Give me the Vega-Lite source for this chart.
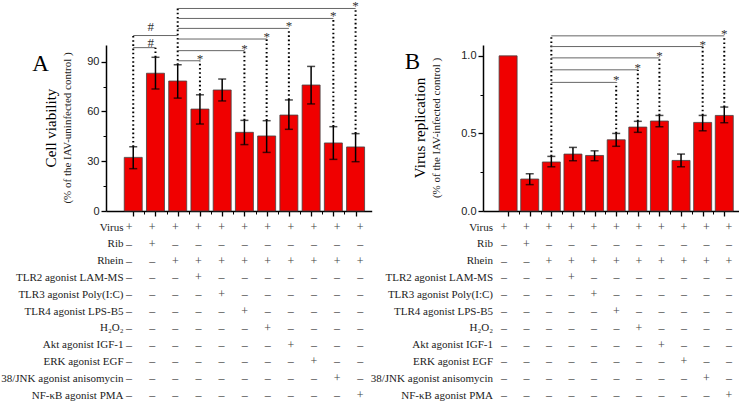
{
  "$schema": "https://vega.github.io/schema/vega-lite/v6.json",
  "padding": 0,
  "background": "white",
  "config": {"view": {"stroke": null}},
  "datasets": {
    "a": [
      {"i": 0, "v": 32.3, "lo": 25.5, "hi": 38.7},
      {"i": 1, "v": 83, "lo": 73.5, "hi": 92.6},
      {"i": 2, "v": 78.3, "lo": 68, "hi": 88.1},
      {"i": 3, "v": 61.4, "lo": 52.4, "hi": 70},
      {"i": 4, "v": 72.9, "lo": 66.3, "hi": 79.5},
      {"i": 5, "v": 47.4, "lo": 40, "hi": 54.6},
      {"i": 6, "v": 45.2, "lo": 35.3, "hi": 54.4},
      {"i": 7, "v": 57.8, "lo": 49.2, "hi": 66.9},
      {"i": 8, "v": 75.9, "lo": 64.5, "hi": 87.1},
      {"i": 9, "v": 41, "lo": 31.1, "hi": 50.8},
      {"i": 10, "v": 38.6, "lo": 29.7, "hi": 46.6}
    ],
    "b": [
      {"i": 0, "v": 1.0, "lo": null, "hi": null},
      {"i": 1, "v": 0.206, "lo": 0.17, "hi": 0.24},
      {"i": 2, "v": 0.316, "lo": 0.285, "hi": 0.352},
      {"i": 3, "v": 0.367, "lo": 0.324, "hi": 0.41},
      {"i": 4, "v": 0.358, "lo": 0.324, "hi": 0.388},
      {"i": 5, "v": 0.459, "lo": 0.417, "hi": 0.5},
      {"i": 6, "v": 0.541, "lo": 0.507, "hi": 0.578},
      {"i": 7, "v": 0.58, "lo": 0.543, "hi": 0.616},
      {"i": 8, "v": 0.326, "lo": 0.285, "hi": 0.367},
      {"i": 9, "v": 0.571, "lo": 0.517, "hi": 0.616},
      {"i": 10, "v": 0.616, "lo": 0.569, "hi": 0.67}
    ],
    "la": [
      {"i": 0, "i2": 1, "y": 98.4}, {"i": 0, "i2": 2, "y": 105.7},
      {"i": 2, "i2": 3, "y": 90.5}, {"i": 2, "i2": 5, "y": 96.6},
      {"i": 2, "i2": 6, "y": 103.6}, {"i": 2, "i2": 7, "y": 110},
      {"i": 2, "i2": 9, "y": 116}, {"i": 2, "i2": 10, "y": 122}
    ],
    "da": [
      {"i": 0, "y1": 38.7, "y2": 105.7}, {"i": 1, "y1": 92.6, "y2": 98.4},
      {"i": 2, "y1": 88.1, "y2": 122.5}, {"i": 3, "y1": 70, "y2": 90.5},
      {"i": 5, "y1": 54.6, "y2": 96.6}, {"i": 6, "y1": 54.4, "y2": 103.6},
      {"i": 7, "y1": 66.9, "y2": 110}, {"i": 9, "y1": 50.8, "y2": 116},
      {"i": 10, "y1": 46.6, "y2": 122}
    ],
    "ta": [
      {"x": 0.79, "y": 100, "t": "#"}, {"x": 0.79, "y": 109.5, "t": "#"},
      {"x": 3, "y": 90.5, "t": "*"}, {"x": 5, "y": 96.6, "t": "*"},
      {"x": 6, "y": 103.6, "t": "*"}, {"x": 7, "y": 110, "t": "*"},
      {"x": 9, "y": 116, "t": "*"}, {"x": 10, "y": 122, "t": "*"}
    ],
    "lb": [
      {"i": 2, "i2": 5, "y": 0.829}, {"i": 2, "i2": 6, "y": 0.91},
      {"i": 2, "i2": 7, "y": 0.987}, {"i": 2, "i2": 9, "y": 1.06},
      {"i": 2, "i2": 10, "y": 1.129}
    ],
    "db": [
      {"i": 2, "y1": 0.352, "y2": 1.135}, {"i": 5, "y1": 0.5, "y2": 0.829},
      {"i": 6, "y1": 0.578, "y2": 0.91}, {"i": 7, "y1": 0.616, "y2": 0.987},
      {"i": 9, "y1": 0.616, "y2": 1.06}, {"i": 10, "y1": 0.67, "y2": 1.129}
    ],
    "tb": [
      {"x": 5, "y": 0.829, "t": "*"}, {"x": 6, "y": 0.91, "t": "*"},
      {"x": 7, "y": 0.987, "t": "*"}, {"x": 9, "y": 1.06, "t": "*"},
      {"x": 10, "y": 1.129, "t": "*"}
    ],
    "tbl": [
      {"r": "Virus", "c": 0, "s": "+"}, {"r": "Virus", "c": 1, "s": "+"}, {"r": "Virus", "c": 2, "s": "+"}, {"r": "Virus", "c": 3, "s": "+"}, {"r": "Virus", "c": 4, "s": "+"}, {"r": "Virus", "c": 5, "s": "+"}, {"r": "Virus", "c": 6, "s": "+"}, {"r": "Virus", "c": 7, "s": "+"}, {"r": "Virus", "c": 8, "s": "+"}, {"r": "Virus", "c": 9, "s": "+"}, {"r": "Virus", "c": 10, "s": "+"},
      {"r": "Rib", "c": 0, "s": "–"}, {"r": "Rib", "c": 1, "s": "+"}, {"r": "Rib", "c": 2, "s": "–"}, {"r": "Rib", "c": 3, "s": "–"}, {"r": "Rib", "c": 4, "s": "–"}, {"r": "Rib", "c": 5, "s": "–"}, {"r": "Rib", "c": 6, "s": "–"}, {"r": "Rib", "c": 7, "s": "–"}, {"r": "Rib", "c": 8, "s": "–"}, {"r": "Rib", "c": 9, "s": "–"}, {"r": "Rib", "c": 10, "s": "–"},
      {"r": "Rhein", "c": 0, "s": "–"}, {"r": "Rhein", "c": 1, "s": "–"}, {"r": "Rhein", "c": 2, "s": "+"}, {"r": "Rhein", "c": 3, "s": "+"}, {"r": "Rhein", "c": 4, "s": "+"}, {"r": "Rhein", "c": 5, "s": "+"}, {"r": "Rhein", "c": 6, "s": "+"}, {"r": "Rhein", "c": 7, "s": "+"}, {"r": "Rhein", "c": 8, "s": "+"}, {"r": "Rhein", "c": 9, "s": "+"}, {"r": "Rhein", "c": 10, "s": "+"},
      {"r": "TLR2 agonist LAM-MS", "c": 0, "s": "–"}, {"r": "TLR2 agonist LAM-MS", "c": 1, "s": "–"}, {"r": "TLR2 agonist LAM-MS", "c": 2, "s": "–"}, {"r": "TLR2 agonist LAM-MS", "c": 3, "s": "+"}, {"r": "TLR2 agonist LAM-MS", "c": 4, "s": "–"}, {"r": "TLR2 agonist LAM-MS", "c": 5, "s": "–"}, {"r": "TLR2 agonist LAM-MS", "c": 6, "s": "–"}, {"r": "TLR2 agonist LAM-MS", "c": 7, "s": "–"}, {"r": "TLR2 agonist LAM-MS", "c": 8, "s": "–"}, {"r": "TLR2 agonist LAM-MS", "c": 9, "s": "–"}, {"r": "TLR2 agonist LAM-MS", "c": 10, "s": "–"},
      {"r": "TLR3 agonist Poly(I:C)", "c": 0, "s": "–"}, {"r": "TLR3 agonist Poly(I:C)", "c": 1, "s": "–"}, {"r": "TLR3 agonist Poly(I:C)", "c": 2, "s": "–"}, {"r": "TLR3 agonist Poly(I:C)", "c": 3, "s": "–"}, {"r": "TLR3 agonist Poly(I:C)", "c": 4, "s": "+"}, {"r": "TLR3 agonist Poly(I:C)", "c": 5, "s": "–"}, {"r": "TLR3 agonist Poly(I:C)", "c": 6, "s": "–"}, {"r": "TLR3 agonist Poly(I:C)", "c": 7, "s": "–"}, {"r": "TLR3 agonist Poly(I:C)", "c": 8, "s": "–"}, {"r": "TLR3 agonist Poly(I:C)", "c": 9, "s": "–"}, {"r": "TLR3 agonist Poly(I:C)", "c": 10, "s": "–"},
      {"r": "TLR4 agonist LPS-B5", "c": 0, "s": "–"}, {"r": "TLR4 agonist LPS-B5", "c": 1, "s": "–"}, {"r": "TLR4 agonist LPS-B5", "c": 2, "s": "–"}, {"r": "TLR4 agonist LPS-B5", "c": 3, "s": "–"}, {"r": "TLR4 agonist LPS-B5", "c": 4, "s": "–"}, {"r": "TLR4 agonist LPS-B5", "c": 5, "s": "+"}, {"r": "TLR4 agonist LPS-B5", "c": 6, "s": "–"}, {"r": "TLR4 agonist LPS-B5", "c": 7, "s": "–"}, {"r": "TLR4 agonist LPS-B5", "c": 8, "s": "–"}, {"r": "TLR4 agonist LPS-B5", "c": 9, "s": "–"}, {"r": "TLR4 agonist LPS-B5", "c": 10, "s": "–"},
      {"r": "H₂O₂", "c": 0, "s": "–"}, {"r": "H₂O₂", "c": 1, "s": "–"}, {"r": "H₂O₂", "c": 2, "s": "–"}, {"r": "H₂O₂", "c": 3, "s": "–"}, {"r": "H₂O₂", "c": 4, "s": "–"}, {"r": "H₂O₂", "c": 5, "s": "–"}, {"r": "H₂O₂", "c": 6, "s": "+"}, {"r": "H₂O₂", "c": 7, "s": "–"}, {"r": "H₂O₂", "c": 8, "s": "–"}, {"r": "H₂O₂", "c": 9, "s": "–"}, {"r": "H₂O₂", "c": 10, "s": "–"},
      {"r": "Akt agonist IGF-1", "c": 0, "s": "–"}, {"r": "Akt agonist IGF-1", "c": 1, "s": "–"}, {"r": "Akt agonist IGF-1", "c": 2, "s": "–"}, {"r": "Akt agonist IGF-1", "c": 3, "s": "–"}, {"r": "Akt agonist IGF-1", "c": 4, "s": "–"}, {"r": "Akt agonist IGF-1", "c": 5, "s": "–"}, {"r": "Akt agonist IGF-1", "c": 6, "s": "–"}, {"r": "Akt agonist IGF-1", "c": 7, "s": "+"}, {"r": "Akt agonist IGF-1", "c": 8, "s": "–"}, {"r": "Akt agonist IGF-1", "c": 9, "s": "–"}, {"r": "Akt agonist IGF-1", "c": 10, "s": "–"},
      {"r": "ERK agonist EGF", "c": 0, "s": "–"}, {"r": "ERK agonist EGF", "c": 1, "s": "–"}, {"r": "ERK agonist EGF", "c": 2, "s": "–"}, {"r": "ERK agonist EGF", "c": 3, "s": "–"}, {"r": "ERK agonist EGF", "c": 4, "s": "–"}, {"r": "ERK agonist EGF", "c": 5, "s": "–"}, {"r": "ERK agonist EGF", "c": 6, "s": "–"}, {"r": "ERK agonist EGF", "c": 7, "s": "–"}, {"r": "ERK agonist EGF", "c": 8, "s": "+"}, {"r": "ERK agonist EGF", "c": 9, "s": "–"}, {"r": "ERK agonist EGF", "c": 10, "s": "–"},
      {"r": "38/JNK agonist anisomycin", "c": 0, "s": "–"}, {"r": "38/JNK agonist anisomycin", "c": 1, "s": "–"}, {"r": "38/JNK agonist anisomycin", "c": 2, "s": "–"}, {"r": "38/JNK agonist anisomycin", "c": 3, "s": "–"}, {"r": "38/JNK agonist anisomycin", "c": 4, "s": "–"}, {"r": "38/JNK agonist anisomycin", "c": 5, "s": "–"}, {"r": "38/JNK agonist anisomycin", "c": 6, "s": "–"}, {"r": "38/JNK agonist anisomycin", "c": 7, "s": "–"}, {"r": "38/JNK agonist anisomycin", "c": 8, "s": "–"}, {"r": "38/JNK agonist anisomycin", "c": 9, "s": "+"}, {"r": "38/JNK agonist anisomycin", "c": 10, "s": "–"},
      {"r": "NF-κB agonist PMA", "c": 0, "s": "–"}, {"r": "NF-κB agonist PMA", "c": 1, "s": "–"}, {"r": "NF-κB agonist PMA", "c": 2, "s": "–"}, {"r": "NF-κB agonist PMA", "c": 3, "s": "–"}, {"r": "NF-κB agonist PMA", "c": 4, "s": "–"}, {"r": "NF-κB agonist PMA", "c": 5, "s": "–"}, {"r": "NF-κB agonist PMA", "c": 6, "s": "–"}, {"r": "NF-κB agonist PMA", "c": 7, "s": "–"}, {"r": "NF-κB agonist PMA", "c": 8, "s": "–"}, {"r": "NF-κB agonist PMA", "c": 9, "s": "–"}, {"r": "NF-κB agonist PMA", "c": 10, "s": "+"}
    ]
  },
  "columns": 2,
  "spacing": {"row": 16, "column": 111},
  "bounds": "flush",
  "align": "each",
  "concat": [
    {
      "width": 265.7,
      "height": 166,
      "title": {"text": "Cell viability", "subtitle": "(% of the IAV-uninfected control )", "orient": "left", "anchor": "middle", "frame": "group", "font": "Liberation Serif", "fontSize": 15, "fontWeight": "normal", "color": "#000", "subtitleFont": "Liberation Serif", "subtitleFontSize": 11, "subtitleColor": "#222", "subtitlePadding": 3, "offset": -41},
      "resolve": {"axis": {"x": "independent", "y": "independent"}},
      "layer": [
        {
          "data": {"name": "a"},
          "mark": {"type": "bar", "width": 18, "fill": "#f00000", "stroke": "#444", "strokeWidth": 0.8},
          "encoding": {
            "x": {"field": "i", "type": "quantitative", "scale": {"domain": [-1, 10.5], "nice": false, "zero": false},
                  "axis": {"orient": "bottom", "values": [0,1,2,3,4,5,6,7,8,9,10], "labels": false, "tickSize": 5, "tickColor": "#000", "tickWidth": 1.3, "domainColor": "#000", "domainWidth": 1.5, "grid": false, "title": null}},
            "y": {"field": "v", "type": "quantitative", "scale": {"domain": [0, 100], "nice": false},
                  "axis": {"orient": "left", "values": [0, 30, 60, 90], "tickSize": 5, "tickColor": "#000", "tickWidth": 1.3, "domainColor": "#000", "domainWidth": 1.5, "grid": false, "labelFont": "Liberation Sans", "labelFontSize": 11, "labelColor": "#222", "labelPadding": 2, "title": "A", "titleAngle": 0, "titleFont": "Liberation Serif", "titleFontSize": 23, "titleFontWeight": "normal", "titleColor": "#000", "titleX": -66, "titleY": 18, "titleAlign": "center", "titleBaseline": "middle"}}
          }
        },
        {
          "data": {"name": "a"},
          "mark": {"type": "point", "opacity": 0},
          "encoding": {
            "x": {"field": "i", "type": "quantitative", "scale": {"domain": [-1, 10.5], "nice": false, "zero": false},
                  "axis": {"orient": "bottom", "values": [0.5,1.5,2.5,3.5,4.5,5.5,6.5,7.5,8.5,9.5], "labels": false, "tickSize": 3, "tickColor": "#000", "tickWidth": 1, "domain": false, "grid": false, "title": null}},
            "y": {"field": "v", "type": "quantitative", "scale": {"domain": [0, 100], "nice": false},
                  "axis": {"orient": "left", "values": [15, 45, 75], "labels": false, "tickSize": 3, "tickColor": "#000", "tickWidth": 1, "domain": false, "grid": false, "title": null}}
          }
        },
        {
          "data": {"name": "a"},
          "mark": {"type": "rule", "color": "#000", "strokeWidth": 1.5},
          "encoding": {
            "x": {"field": "i", "type": "quantitative", "scale": {"domain": [-1, 10.5], "nice": false, "zero": false}, "axis": null},
            "y": {"field": "lo", "type": "quantitative", "scale": {"domain": [0, 100], "nice": false}, "axis": null},
            "y2": {"field": "hi"}
          }
        },
        {
          "data": {"name": "a"},
          "mark": {"type": "tick", "orient": "horizontal", "size": 8, "thickness": 1.5, "color": "#000"},
          "encoding": {
            "x": {"field": "i", "type": "quantitative", "scale": {"domain": [-1, 10.5], "nice": false, "zero": false}, "axis": null},
            "y": {"field": "hi", "type": "quantitative", "scale": {"domain": [0, 100], "nice": false}, "axis": null}
          }
        },
        {
          "data": {"name": "a"},
          "mark": {"type": "tick", "orient": "horizontal", "size": 8, "thickness": 1.5, "color": "#000"},
          "encoding": {
            "x": {"field": "i", "type": "quantitative", "scale": {"domain": [-1, 10.5], "nice": false, "zero": false}, "axis": null},
            "y": {"field": "lo", "type": "quantitative", "scale": {"domain": [0, 100], "nice": false}, "axis": null}
          }
        },
        {
          "data": {"name": "da"},
          "mark": {"type": "rule", "color": "#000", "strokeWidth": 2, "strokeDash": [1.6, 2.6], "clip": false},
          "encoding": {
            "x": {"field": "i", "type": "quantitative", "scale": {"domain": [-1, 10.5], "nice": false, "zero": false}, "axis": null},
            "y": {"field": "y1", "type": "quantitative", "scale": {"domain": [0, 100], "nice": false}, "axis": null},
            "y2": {"field": "y2"}
          }
        },
        {
          "data": {"name": "la"},
          "mark": {"type": "rule", "color": "#666", "strokeWidth": 1, "clip": false},
          "encoding": {
            "x": {"field": "i", "type": "quantitative", "scale": {"domain": [-1, 10.5], "nice": false, "zero": false}, "axis": null},
            "x2": {"field": "i2"},
            "y": {"field": "y", "type": "quantitative", "scale": {"domain": [0, 100], "nice": false}, "axis": null}
          }
        },
        {
          "data": {"name": "ta"},
          "mark": {"type": "text", "font": "Liberation Serif", "fontSize": 13, "color": "#333", "baseline": "alphabetic", "dy": 2, "clip": false},
          "encoding": {
            "x": {"field": "x", "type": "quantitative", "scale": {"domain": [-1, 10.5], "nice": false, "zero": false}, "axis": null},
            "y": {"field": "y", "type": "quantitative", "scale": {"domain": [0, 100], "nice": false}, "axis": null},
            "text": {"field": "t"}
          }
        }
      ]
    },
    {
      "width": 256,
      "height": 166,
      "title": {"text": "Virus replication", "subtitle": "(% of the IAV-infected control )", "orient": "left", "anchor": "middle", "frame": "group", "font": "Liberation Serif", "fontSize": 15, "fontWeight": "normal", "color": "#000", "subtitleFont": "Liberation Serif", "subtitleFontSize": 11, "subtitleColor": "#222", "subtitlePadding": 3, "offset": -38},
      "resolve": {"axis": {"x": "independent", "y": "independent"}},
      "layer": [
        {
          "data": {"name": "b"},
          "mark": {"type": "bar", "width": 18, "fill": "#f00000", "stroke": "#444", "strokeWidth": 0.8},
          "encoding": {
            "x": {"field": "i", "type": "quantitative", "scale": {"domain": [-0.93, 10.45], "nice": false, "zero": false},
                  "axis": {"orient": "bottom", "values": [0,1,2,3,4,5,6,7,8,9,10], "labels": false, "tickSize": 5, "tickColor": "#000", "tickWidth": 1.3, "domainColor": "#000", "domainWidth": 1.5, "grid": false, "title": null}},
            "y": {"field": "v", "type": "quantitative", "scale": {"domain": [0, 1.07], "nice": false},
                  "axis": {"orient": "left", "values": [0, 0.5, 1.0], "format": ".1f", "tickSize": 5, "tickColor": "#000", "tickWidth": 1.3, "domainColor": "#000", "domainWidth": 1.5, "grid": false, "labelFont": "Liberation Sans", "labelFontSize": 11, "labelColor": "#222", "labelPadding": 2, "title": "B", "titleAngle": 0, "titleFont": "Liberation Serif", "titleFontSize": 23, "titleFontWeight": "normal", "titleColor": "#000", "titleX": -71, "titleY": 16, "titleAlign": "center", "titleBaseline": "middle"}}
          }
        },
        {
          "data": {"name": "b"},
          "mark": {"type": "point", "opacity": 0},
          "encoding": {
            "x": {"field": "i", "type": "quantitative", "scale": {"domain": [-0.93, 10.45], "nice": false, "zero": false},
                  "axis": {"orient": "bottom", "values": [0.5,1.5,2.5,3.5,4.5,5.5,6.5,7.5,8.5,9.5], "labels": false, "tickSize": 3, "tickColor": "#000", "tickWidth": 1, "domain": false, "grid": false, "title": null}},
            "y": {"field": "v", "type": "quantitative", "scale": {"domain": [0, 1.07], "nice": false},
                  "axis": {"orient": "left", "values": [0.25, 0.75], "labels": false, "tickSize": 3, "tickColor": "#000", "tickWidth": 1, "domain": false, "grid": false, "title": null}}
          }
        },
        {
          "data": {"name": "b"},
          "mark": {"type": "rule", "color": "#000", "strokeWidth": 1.5},
          "encoding": {
            "x": {"field": "i", "type": "quantitative", "scale": {"domain": [-0.93, 10.45], "nice": false, "zero": false}, "axis": null},
            "y": {"field": "lo", "type": "quantitative", "scale": {"domain": [0, 1.07], "nice": false}, "axis": null},
            "y2": {"field": "hi"}
          }
        },
        {
          "data": {"name": "b"},
          "mark": {"type": "tick", "orient": "horizontal", "size": 8, "thickness": 1.5, "color": "#000"},
          "encoding": {
            "x": {"field": "i", "type": "quantitative", "scale": {"domain": [-0.93, 10.45], "nice": false, "zero": false}, "axis": null},
            "y": {"field": "hi", "type": "quantitative", "scale": {"domain": [0, 1.07], "nice": false}, "axis": null}
          }
        },
        {
          "data": {"name": "b"},
          "mark": {"type": "tick", "orient": "horizontal", "size": 8, "thickness": 1.5, "color": "#000"},
          "encoding": {
            "x": {"field": "i", "type": "quantitative", "scale": {"domain": [-0.93, 10.45], "nice": false, "zero": false}, "axis": null},
            "y": {"field": "lo", "type": "quantitative", "scale": {"domain": [0, 1.07], "nice": false}, "axis": null}
          }
        },
        {
          "data": {"name": "db"},
          "mark": {"type": "rule", "color": "#000", "strokeWidth": 2, "strokeDash": [1.6, 2.6], "clip": false},
          "encoding": {
            "x": {"field": "i", "type": "quantitative", "scale": {"domain": [-0.93, 10.45], "nice": false, "zero": false}, "axis": null},
            "y": {"field": "y1", "type": "quantitative", "scale": {"domain": [0, 1.07], "nice": false}, "axis": null},
            "y2": {"field": "y2"}
          }
        },
        {
          "data": {"name": "lb"},
          "mark": {"type": "rule", "color": "#666", "strokeWidth": 1, "clip": false},
          "encoding": {
            "x": {"field": "i", "type": "quantitative", "scale": {"domain": [-0.93, 10.45], "nice": false, "zero": false}, "axis": null},
            "x2": {"field": "i2"},
            "y": {"field": "y", "type": "quantitative", "scale": {"domain": [0, 1.07], "nice": false}, "axis": null}
          }
        },
        {
          "data": {"name": "tb"},
          "mark": {"type": "text", "font": "Liberation Serif", "fontSize": 13, "color": "#333", "baseline": "alphabetic", "dy": 2, "clip": false},
          "encoding": {
            "x": {"field": "x", "type": "quantitative", "scale": {"domain": [-0.93, 10.45], "nice": false, "zero": false}, "axis": null},
            "y": {"field": "y", "type": "quantitative", "scale": {"domain": [0, 1.07], "nice": false}, "axis": null},
            "text": {"field": "t"}
          }
        }
      ]
    },
    {
      "width": 265.7,
      "height": 168,
      "data": {"name": "tbl"},
      "mark": {"type": "text", "font": "Liberation Serif", "fontSize": 12, "color": "#444", "baseline": "middle"},
      "encoding": {
        "x": {"field": "c", "type": "quantitative", "scale": {"domain": [-1, 10.5], "nice": false, "zero": false}, "axis": null},
        "y": {"field": "r", "type": "nominal", "scale": {"type": "point", "padding": 0, "domain": ["Virus", "Rib", "Rhein", "TLR2 agonist LAM-MS", "TLR3 agonist Poly(I:C)", "TLR4 agonist LPS-B5", "H₂O₂", "Akt agonist IGF-1", "ERK agonist EGF", "38/JNK agonist anisomycin", "NF-κB agonist PMA"]},
              "axis": {"title": null, "domain": false, "ticks": false, "labelFont": "Liberation Serif", "labelFontSize": 11, "labelColor": "#222", "labelPadding": 2, "offset": -19, "labelLimit": 300}},
        "text": {"field": "s"}
      }
    },
    {
      "width": 256,
      "height": 168,
      "data": {"name": "tbl"},
      "mark": {"type": "text", "font": "Liberation Serif", "fontSize": 12, "color": "#444", "baseline": "middle"},
      "encoding": {
        "x": {"field": "c", "type": "quantitative", "scale": {"domain": [-0.93, 10.45], "nice": false, "zero": false}, "axis": null},
        "y": {"field": "r", "type": "nominal", "scale": {"type": "point", "padding": 0, "domain": ["Virus", "Rib", "Rhein", "TLR2 agonist LAM-MS", "TLR3 agonist Poly(I:C)", "TLR4 agonist LPS-B5", "H₂O₂", "Akt agonist IGF-1", "ERK agonist EGF", "38/JNK agonist anisomycin", "NF-κB agonist PMA"]},
              "axis": {"title": null, "domain": false, "ticks": false, "labelFont": "Liberation Serif", "labelFontSize": 11, "labelColor": "#222", "labelPadding": 2, "offset": -11.5, "labelLimit": 300}},
        "text": {"field": "s"}
      }
    }
  ]
}
